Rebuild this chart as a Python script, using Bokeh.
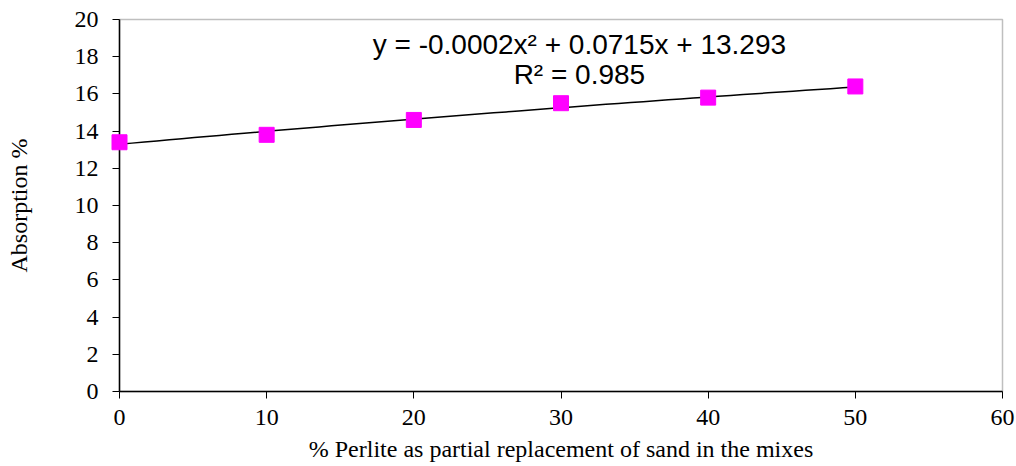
from bokeh.plotting import figure
from bokeh.models import Range1d, FixedTicker, Label
from bokeh.embed import file_html
from bokeh.resources import INLINE
import numpy as np

perlite = [0, 10, 20, 30, 40, 50]
absorption = [13.4, 13.8, 14.6, 15.5, 15.8, 16.4]
trend_coef = [-0.0002, 0.0715, 13.293]
x_ticks = [0, 10, 20, 30, 40, 50, 60]
y_ticks = [0, 2, 4, 6, 8, 10, 12, 14, 16, 18, 20]
eq_text = "y = -0.0002x² + 0.0715x + 13.293"
r2_text = "R² = 0.985"

p = figure(width=1016, height=464, output_backend="svg", toolbar_location=None,
           x_range=Range1d(0, 60), y_range=Range1d(0, 20),
           min_border_left=119, min_border_top=19, min_border_right=14, min_border_bottom=72)
p.xgrid.visible = False
p.ygrid.visible = False
p.outline_line_color = "#BFBFBF"
p.outline_line_width = 1.5

tx = np.linspace(perlite[0], perlite[-1], 60)
ty = np.polyval(trend_coef, tx)
p.line(tx, ty, line_color="black", line_width=1.5)
p.scatter(perlite, absorption, marker="square", size=15, fill_color="#FF00FF", line_color="#FF00FF",
          level="overlay")

for ax in (p.xaxis, p.yaxis):
    ax.axis_line_color = "black"
    ax.axis_line_width = 1.5
    ax.major_tick_line_color = "black"
    ax.minor_tick_line_color = None
    ax.major_tick_in = 0
    ax.major_tick_out = 7
    ax.major_label_text_font = "Liberation Serif"
    ax.major_label_text_font_size = "24px"
    ax.major_label_text_color = "black"
    ax.axis_label_text_font = "Liberation Serif"
    ax.axis_label_text_font_size = "24px"
    ax.axis_label_text_font_style = "normal"
    ax.axis_label_text_color = "black"

p.xaxis.ticker = FixedTicker(ticks=x_ticks)
p.yaxis.ticker = FixedTicker(ticks=y_ticks)
p.xaxis.major_label_standoff = 11
p.yaxis.major_label_standoff = 14
p.xaxis.axis_label = "% Perlite as partial replacement of sand in the mixes"
p.yaxis.axis_label = "Absorption %"
p.xaxis.axis_label_standoff = 8
p.yaxis.axis_label_standoff = 40

p.add_layout(Label(x=31.25, y=18.65, text=eq_text, text_font="Liberation Sans", text_font_size="28px",
                   text_align="center", text_baseline="middle", text_color="black"))
p.add_layout(Label(x=31.25, y=17.05, text=r2_text, text_font="Liberation Sans", text_font_size="28px",
                   text_align="center", text_baseline="middle", text_color="black"))

open("out.html", "w").write(file_html(p, INLINE))
